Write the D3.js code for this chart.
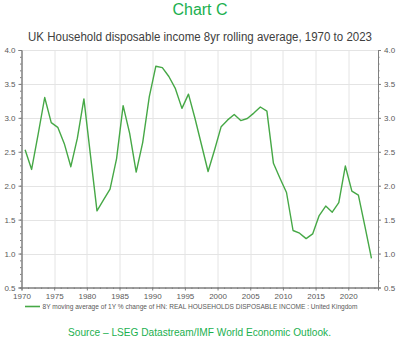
<!DOCTYPE html>
<html>
<head>
<meta charset="utf-8">
<script src="https://cdn.jsdelivr.net/npm/d3@7"></script>
<style>
  body { margin: 0; background: #fff; }
  svg { display: block; font-family: "Liberation Sans", Arial, sans-serif; }
</style>
</head>
<body>
<svg width="408" height="349"></svg>
<script>
// 8yr moving average of 1Y % change, UK real household disposable income
var years = d3.range(1970, 2024);
var values = [
  2.53, 2.24, 2.76, 3.30, 2.93, 2.86, 2.62, 2.28, 2.70, 3.28,
  2.45, 1.63, 1.79, 1.95, 2.40, 3.18, 2.77, 2.20, 2.64, 3.31,
  3.76, 3.74, 3.61, 3.43, 3.14, 3.35, 2.99, 2.60, 2.21, 2.53,
  2.87, 2.97, 3.05, 2.96, 2.99, 3.07, 3.16, 3.10, 2.33, 2.11,
  1.90, 1.34, 1.30, 1.22, 1.29, 1.56, 1.70, 1.61, 1.75, 2.29,
  1.92, 1.86, 1.40, 0.93
];
var yTicks = [0.5, 1.0, 1.5, 2.0, 2.5, 3.0, 3.5, 4.0];
var xTicks = [1970, 1975, 1980, 1985, 1990, 1995, 2000, 2005, 2010, 2015, 2020];

var data = years.map(function(yr, i) { return {year: yr, value: values[i]}; });

var svg = d3.select("svg"),
    margin = {left: 21.5, right: 30, top: 50, bottom: 61.5},
    width = 408 - margin.left - margin.right,
    height = 349 - margin.top - margin.bottom,
    g = svg.append("g").attr("transform", "translate(" + margin.left + "," + margin.top + ")");

var x = d3.scaleLinear().domain([1970, 2024.55]).range([0, width]);
var y = d3.scaleLinear().domain([0.5, 4.0]).range([height, 0]);

var axisColor = "#7f7f7f", labelColor = "#595959", green = "#46a846";

// headings
svg.append("text")
    .attr("x", 200).attr("y", 14.5)
    .attr("text-anchor", "middle")
    .style("font-size", "16px")
    .style("fill", "#1bb04f")
    .text("Chart C");

svg.append("text")
    .attr("x", 200).attr("y", 40.5)
    .attr("text-anchor", "middle")
    .attr("textLength", 344).attr("lengthAdjust", "spacingAndGlyphs")
    .style("font-size", "12.5px")
    .style("fill", "#404040")
    .text("UK Household disposable income 8yr rolling average, 1970 to 2023");

// grid
g.append("g").selectAll("line")
  .data(yTicks.slice(1))
  .enter().append("line")
    .attr("x1", 0).attr("x2", width)
    .attr("y1", function(d) { return Math.round(y(d)) + 0.5; })
    .attr("y2", function(d) { return Math.round(y(d)) + 0.5; })
    .style("stroke", "#e4e4e4");

g.append("g").selectAll("line")
  .data(xTicks.slice(1))
  .enter().append("line")
    .attr("y1", 0).attr("y2", height)
    .attr("x1", function(d) { return Math.round(x(d)) + 0.5; })
    .attr("x2", function(d) { return Math.round(x(d)) + 0.5; })
    .style("stroke", "#e4e4e4");

// minor ticks
var minorY = d3.range(5, 41).map(function(d) { return d / 10; });
var minorX = d3.range(1970, 2025);

function styleAxis(sel) {
  sel.select(".domain").style("stroke", axisColor);
  sel.selectAll(".tick line").style("stroke", axisColor);
  sel.selectAll(".tick text").style("fill", labelColor).style("font-size", "8px");
}

g.append("g").call(d3.axisLeft(y).tickValues(minorY).tickSize(1.5).tickFormat(""))
  .call(styleAxis);
g.append("g").attr("transform", "translate(" + width + ",0)")
  .call(d3.axisRight(y).tickValues(minorY).tickSize(1.5).tickFormat(""))
  .call(styleAxis);
g.append("g").attr("transform", "translate(0," + height + ")")
  .call(d3.axisBottom(x).tickValues(minorX).tickSize(1.5).tickFormat(""))
  .call(styleAxis);

// major ticks and labels
g.append("g")
  .call(d3.axisLeft(y).tickValues(yTicks).tickSize(3).tickPadding(3).tickFormat(d3.format(".1f")))
  .call(styleAxis);
g.append("g").attr("transform", "translate(" + width + ",0)")
  .call(d3.axisRight(y).tickValues(yTicks).tickSize(3).tickPadding(3).tickFormat(d3.format(".1f")))
  .call(styleAxis);
g.append("g").attr("transform", "translate(0," + height + ")")
  .call(d3.axisBottom(x).tickValues(xTicks).tickSize(3).tickPadding(3).tickFormat(d3.format("d")))
  .call(styleAxis);

// series line, points sit mid-year
var line = d3.line()
    .x(function(d) { return x(d.year + 0.55); })
    .y(function(d) { return y(d.value); });

g.append("path")
    .datum(data)
    .attr("d", line)
    .style("fill", "none")
    .style("stroke", green)
    .style("stroke-width", 1.4)
    .style("stroke-linejoin", "round");

// legend
svg.append("line")
    .attr("x1", 25).attr("x2", 40)
    .attr("y1", 306.5).attr("y2", 306.5)
    .style("stroke", green).style("stroke-width", 1.6);

svg.append("text")
    .attr("x", 42.5).attr("y", 309)
    .attr("textLength", 315).attr("lengthAdjust", "spacingAndGlyphs")
    .style("font-size", "7px")
    .style("fill", labelColor)
    .text("8Y moving average of 1Y % change of HN: REAL HOUSEHOLDS DISPOSABLE INCOME : United Kingdom");

svg.append("text")
    .attr("x", 199.5).attr("y", 336)
    .attr("text-anchor", "middle")
    .attr("textLength", 263).attr("lengthAdjust", "spacingAndGlyphs")
    .style("font-size", "11px")
    .style("fill", "#1bb04f")
    .text("Source \u2013 LSEG Datastream/IMF World Economic Outlook.");
</script>
</body>
</html>
